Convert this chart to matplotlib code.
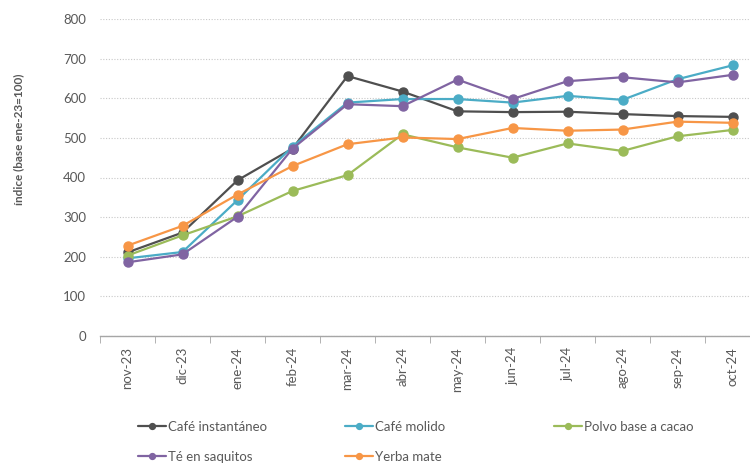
import numpy as np
import matplotlib as mpl
mpl.use("Agg")
import matplotlib.pyplot as plt
from matplotlib.ticker import MultipleLocator, FixedLocator

plt.rcParams["font.family"] = ["Lato", "DejaVu Sans"]

months = ["nov-23", "dic-23", "ene-24", "feb-24", "mar-24", "abr-24",
          "may-24", "jun-24", "jul-24", "ago-24", "sep-24", "oct-24"]

cafe_instantaneo = [211, 261, 393, 473, 656, 617, 567, 565, 566, 560, 555, 553]
cafe_molido = [196, 212, 343, 478, 589, 598, 598, 589, 606, 596, 648, 683]
polvo_cacao = [203, 254, 302, 366, 406, 509, 476, 450, 486, 467, 504, 520]
te_saquitos = [186, 206, 301, 473, 585, 580, 647, 598, 643, 653, 640, 659]
yerba_mate = [228, 278, 357, 429, 484, 501, 497, 525, 518, 521, 541, 538]

series = [
    ("Café instantáneo", cafe_instantaneo, "#4f4f4f"),
    ("Café molido", cafe_molido, "#4bacc6"),
    ("Polvo base a cacao", polvo_cacao, "#9bbb59"),
    ("Té en saquitos", te_saquitos, "#8064a2"),
    ("Yerba mate", yerba_mate, "#f79646"),
]

TXT = "#595959"

fig = plt.figure(figsize=(7.5, 4.66), dpi=100)
ax = fig.add_axes([100 / 750, 1 - 336 / 466, 660 / 750, 317 / 466])

x = np.arange(len(months))
lines = []
for name, vals, col in series:
    ln, = ax.plot(x, vals, color=col, lw=1.6, marker="o", ms=6.5,
                  label=name, solid_capstyle="round")
    lines.append(ln)

ax.set_xlim(-0.5, len(months) - 0.5)
ax.set_ylim(0, 800)
ax.yaxis.set_major_locator(MultipleLocator(100))
ax.grid(axis="y", color="#c8c8c8", ls=(0, (1, 1.5)), lw=0.8)
ax.set_axisbelow(True)
for s in ("left", "right", "top"):
    ax.spines[s].set_visible(False)
ax.spines["bottom"].set_color("#a6a6a6")
ax.spines["bottom"].set_linewidth(1.0)

ax.set_xticks(x)
ax.set_xticklabels(months, rotation=90, color=TXT, fontsize=9.5)
ax.xaxis.set_minor_locator(FixedLocator(np.arange(-0.5, len(months), 1.0)))
ax.tick_params(axis="x", which="major", length=0, pad=8)
ax.tick_params(axis="x", which="minor", length=5, color="#a6a6a6")
ax.tick_params(axis="y", length=0, pad=10, labelcolor=TXT, labelsize=9.5)
ax.set_ylabel("índice (base ene-23=100)", color=TXT, fontsize=8.5,
              fontweight="bold")
ax.yaxis.set_label_coords(-76 / 660, 0.62)

# legend: one entry per slot, as in the original layout
slots = [(135, 427), (342, 427), (551, 427), (135, 457), (342, 457)]
for ln, (px, py) in zip(lines, slots):
    fig.legend(handles=[ln], loc="center left",
               bbox_to_anchor=(px / 750 - 0.012, 1 - py / 466),
               frameon=False, fontsize=9.5, handlelength=2.1,
               handletextpad=0.2, labelcolor=TXT, markerscale=0.65)

fig.savefig("out.png", dpi=100)
